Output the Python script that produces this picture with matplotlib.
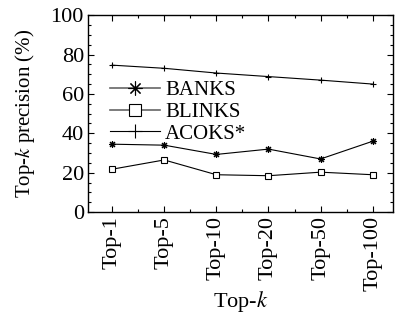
import matplotlib.pyplot as plt
from matplotlib.ticker import MultipleLocator

plt.rcParams['font.family'] = ['Liberation Serif', 'DejaVu Serif']
plt.rcParams['mathtext.fontset'] = 'stix'

categories = ["Top-1", "Top-5", "Top-10", "Top-20", "Top-50", "Top-100"]
banks = [34.5, 34.0, 29.3, 32.0, 27.0, 36.0]
blinks = [21.8, 26.5, 19.0, 18.5, 20.3, 19.0]
acoks = [74.6, 73.0, 70.6, 68.8, 67.0, 65.0]

x = list(range(len(categories)))

fig = plt.figure(figsize=(3.97, 3.21), dpi=100)
ax = fig.add_axes([0.222, 0.339, 0.768, 0.614])

ax.plot(x, banks, color='black', lw=0.8, marker=(8, 2, 0), ms=5, mew=0.8, label='BANKS')
ax.plot(x, blinks, color='black', lw=0.8, marker='s', ms=4, mfc='white', mew=0.8, label='BLINKS')
ax.plot(x, acoks, color='black', lw=0.8, marker='+', ms=5, mew=0.8, label='ACOKS*')

ax.set_xlim(-0.46, 5.39)
ax.set_ylim(0, 100)
ax.set_xticks(x)
ax.set_xticklabels(categories, rotation=90)
ax.xaxis.set_minor_locator(MultipleLocator(0.5))
ax.yaxis.set_major_locator(MultipleLocator(20))
ax.yaxis.set_minor_locator(MultipleLocator(5))
ax.tick_params(which='both', direction='in', top=True, right=True, labelsize=16, width=0.8)
ax.tick_params(which='major', length=4, pad=3)
ax.tick_params(which='minor', length=2)
for s in ax.spines.values():
    s.set_linewidth(1.0)

ax.set_ylabel('Top-$k$ precision (%)', fontsize=15, labelpad=10)
ax.set_xlabel('Top-$k$', fontsize=16, labelpad=-2)

leg = ax.legend(loc='upper left', bbox_to_anchor=(0.03, 0.73), frameon=False, fontsize=15,
                markerscale=2.0, handlelength=2.4, handletextpad=0.25, labelspacing=0.1,
                borderaxespad=0.2)
for h in leg.legend_handles[:2]:
    h.set_color('#666666')
    h.set_linewidth(1.2)
    h.set_markeredgecolor('black')

fig.savefig('out.png', dpi=100)
